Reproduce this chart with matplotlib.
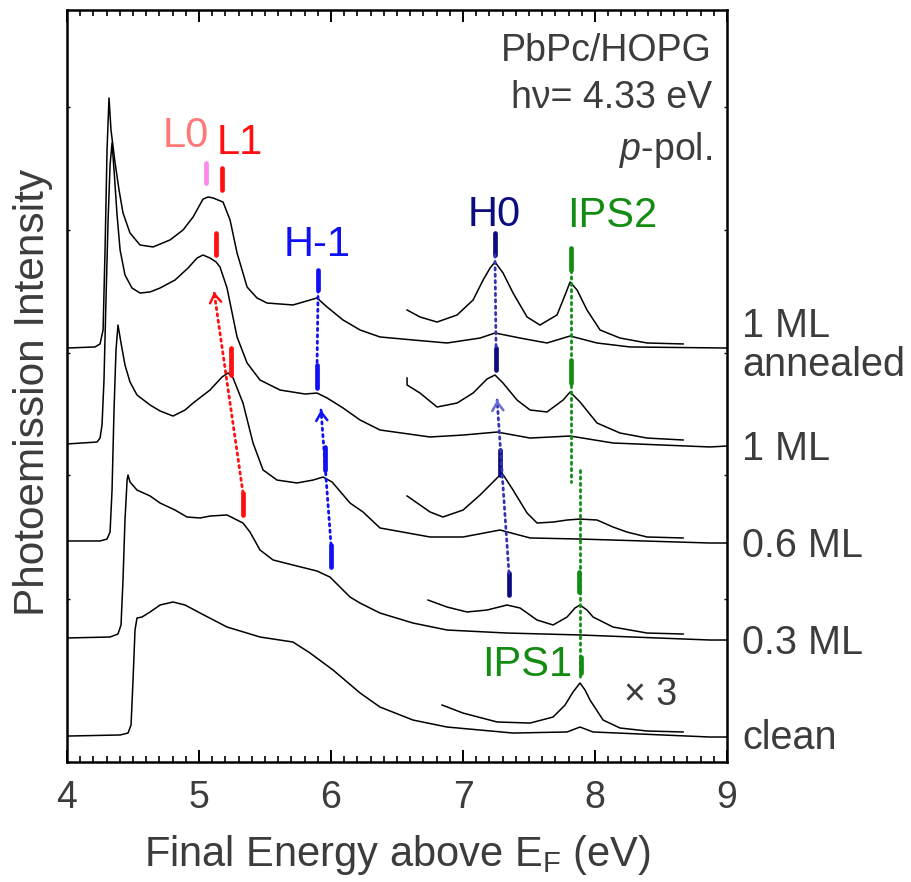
import matplotlib.pyplot as plt
from matplotlib.ticker import MultipleLocator

plt.rcParams['font.family'] = ['Liberation Sans', 'DejaVu Sans']
plt.rcParams['mathtext.fontset'] = 'custom'
plt.rcParams['mathtext.rm'] = 'Liberation Sans'
plt.rcParams['mathtext.it'] = 'Liberation Sans:italic'

GREY = "#3c3c3c"

# full spectra: final energy (eV) and intensity above each baseline
e_ann = [4.000, 4.212, 4.250, 4.273, 4.288, 4.303, 4.318, 4.333, 4.364, 4.394, 4.424, 4.477,
         4.553, 4.652, 4.780, 4.879, 4.955, 5.030, 5.068, 5.106, 5.144, 5.182, 5.235,
         5.288, 5.364, 5.439, 5.515, 5.712, 5.841, 5.894, 5.970, 6.091, 6.220, 6.371, 6.621,
         6.879, 7.129, 7.242, 7.432, 7.636, 7.811, 8.015, 8.265, 9.000]
i_ann = [0.010, 0.021, 0.052, 0.196, 1.021, 2.052, 2.588, 2.258, 1.918, 1.639, 1.402, 1.196,
         1.072, 1.052, 1.124, 1.227, 1.361, 1.545, 1.567, 1.557, 1.536, 1.515, 1.330,
         0.990, 0.639, 0.526, 0.474, 0.454, 0.505, 0.526, 0.433, 0.299, 0.196, 0.124, 0.093,
         0.062, 0.113, 0.165, 0.113, 0.062, 0.134, 0.062, 0.021, 0.010]

e_1ml = [4.000, 4.227, 4.250, 4.265, 4.280, 4.295, 4.311, 4.326, 4.341, 4.356, 4.379, 4.402,
         4.439, 4.492, 4.553, 4.629, 4.705, 4.818, 4.917, 4.985, 5.030, 5.083, 5.129, 5.159,
         5.212, 5.288, 5.364, 5.462, 5.614, 5.803, 5.894, 5.970, 6.091, 6.220, 6.371, 6.750,
         7.000, 7.258, 7.508, 7.811, 8.136, 8.871, 9.000]
i_1ml = [0.021, 0.041, 0.082, 0.216, 0.680, 1.505, 2.330, 2.897, 3.124, 2.845, 2.381, 2.021,
         1.763, 1.629, 1.577, 1.588, 1.629, 1.711, 1.835, 1.938, 1.969, 1.938, 1.897, 1.845,
         1.629, 1.124, 0.856, 0.680, 0.577, 0.536, 0.546, 0.495, 0.392, 0.268, 0.165, 0.093,
         0.113, 0.144, 0.082, 0.103, 0.031, -0.010, 0.000]

e_06 = [4.000, 4.250, 4.303, 4.326, 4.341, 4.356, 4.371, 4.386, 4.409, 4.439, 4.477, 4.530,
        4.629, 4.705, 4.803, 4.894, 4.955, 5.083, 5.174, 5.220, 5.258, 5.333, 5.409, 5.485,
        5.591, 5.742, 5.864, 5.939, 6.008, 6.144, 6.242, 6.371, 6.750, 7.000, 7.280, 7.508,
        7.886, 8.871, 9.000]
i_06 = [0.021, 0.021, 0.041, 0.113, 0.546, 1.371, 1.990, 2.247, 2.062, 1.835, 1.660, 1.526,
        1.423, 1.361, 1.309, 1.371, 1.443, 1.577, 1.711, 1.753, 1.701, 1.443, 1.031, 0.753,
        0.649, 0.619, 0.649, 0.680, 0.629, 0.412, 0.320, 0.155, 0.062, 0.062, 0.134, 0.052,
        0.041, 0.000, 0.000]

e_03 = [4.000, 4.326, 4.386, 4.409, 4.424, 4.439, 4.455, 4.462, 4.477, 4.530, 4.629, 4.705,
        4.818, 4.909, 5.008, 5.083, 5.212, 5.333, 5.386, 5.462, 5.561, 5.712, 5.894, 5.992,
        6.144, 6.220, 6.371, 6.621, 6.879, 7.333, 7.886, 8.871, 9.000]
i_03 = [0.021, 0.031, 0.062, 0.155, 0.619, 1.237, 1.649, 1.701, 1.629, 1.546, 1.485, 1.412,
        1.340, 1.268, 1.258, 1.278, 1.289, 1.206, 1.113, 0.928, 0.825, 0.773, 0.711, 0.649,
        0.443, 0.381, 0.278, 0.175, 0.103, 0.072, 0.052, 0.000, 0.000]

e_clean = [4.000, 4.402, 4.462, 4.485, 4.500, 4.515, 4.530, 4.568, 4.629, 4.705, 4.803, 4.894,
           5.008, 5.212, 5.462, 5.712, 5.841, 6.015, 6.220, 6.371, 6.621, 6.879, 7.379, 7.788,
           7.886, 7.985, 8.871, 9.000]
i_clean = [0.010, 0.021, 0.041, 0.124, 0.588, 1.103, 1.227, 1.237, 1.289, 1.361, 1.392, 1.361,
           1.278, 1.134, 1.031, 0.979, 0.866, 0.691, 0.454, 0.309, 0.175, 0.103, 0.041, 0.052,
           0.103, 0.052, 0.000, 0.000]

# x3 magnified traces of the high-energy part
e_ann3 = [6.576, 6.674, 6.803, 6.955, 7.076, 7.152, 7.205, 7.242, 7.303, 7.379, 7.485, 7.583,
          7.712, 7.773, 7.811, 7.864, 7.939, 8.038, 8.189, 8.394, 8.667]
i_ann3 = [0.402, 0.330, 0.278, 0.351, 0.505, 0.711, 0.835, 0.897, 0.784, 0.577, 0.330, 0.247,
          0.351, 0.557, 0.691, 0.608, 0.402, 0.196, 0.113, 0.062, 0.052]

e_1ml3 = [6.576, 6.576, 6.674, 6.803, 6.955, 7.076, 7.182, 7.242, 7.303, 7.409, 7.508, 7.636,
          7.758, 7.811, 7.886, 8.015, 8.189, 8.394, 8.667]
i_1ml3 = [0.701, 0.629, 0.546, 0.402, 0.443, 0.546, 0.691, 0.732, 0.649, 0.474, 0.371, 0.351,
          0.474, 0.557, 0.454, 0.237, 0.134, 0.082, 0.062]

e_063 = [6.576, 6.750, 6.848, 7.000, 7.129, 7.242, 7.295, 7.379, 7.485, 7.561, 7.682, 7.788,
         7.886, 8.015, 8.136, 8.242, 8.394, 8.667]
i_063 = [0.485, 0.320, 0.268, 0.340, 0.495, 0.649, 0.722, 0.546, 0.309, 0.206, 0.216, 0.237,
         0.247, 0.237, 0.165, 0.113, 0.062, 0.052]

e_033 = [6.735, 6.879, 7.030, 7.182, 7.333, 7.432, 7.561, 7.682, 7.788, 7.848, 7.886, 7.939,
         7.985, 8.136, 8.394, 8.667]
i_033 = [0.412, 0.340, 0.289, 0.309, 0.361, 0.330, 0.206, 0.155, 0.237, 0.330, 0.361, 0.309,
         0.237, 0.134, 0.072, 0.062]

e_clean3 = [6.841, 7.000, 7.258, 7.508, 7.682, 7.773, 7.833, 7.886, 7.924, 7.962, 8.061, 8.189,
            8.394, 8.667]
i_clean3 = [0.330, 0.247, 0.155, 0.144, 0.206, 0.330, 0.464, 0.557, 0.485, 0.381, 0.175, 0.093,
            0.062, 0.052]

offsets = [4, 3, 2, 1, 0]
sample_labels = ["1 ML", "1 ML", "0.6 ML", "0.3 ML", "clean"]

full = [(e_ann, i_ann), (e_1ml, i_1ml), (e_06, i_06), (e_03, i_03), (e_clean, i_clean)]
mag = [(e_ann3, i_ann3), (e_1ml3, i_1ml3), (e_063, i_063), (e_033, i_033), (e_clean3, i_clean3)]

fig = plt.figure(figsize=(9.12, 8.82), dpi=100)
ax = fig.add_axes([0.0735, 0.136, 0.7237, 0.8527])

for (e, i), (e3, i3), off in zip(full, mag, offsets):
    ax.plot(e, [v + off for v in i], color='black', lw=1.1)
    ax.plot(e3, [v + off for v in i3], color='black', lw=1.1)

ax.set_xlim(4, 9)
ax.set_ylim(-0.258, 7.495)

# peak markers
def mark(x, y0, y1, color):
    ax.plot([x, x], [y0, y1], color=color, lw=3.4, solid_capstyle='round')

def dots(x0, y0, x1, y1, color):
    ax.plot([x0, x1], [y0, y1], color=color, lw=2.0, ls=(0, (0.8, 1.5)),
            dash_capstyle='round')

def arrow(x0, y0, x1, y1, color, head_color=None):
    dots(x0, y0, x1, y1, color)
    f = 0.02
    ax.annotate('', xy=(x1, y1), xytext=(x1 - f * (x1 - x0), y1 - f * (y1 - y0)),
                arrowprops=dict(arrowstyle='->,head_length=0.6,head_width=0.4',
                                color=head_color or color, lw=1.8))

RED = "#ff0f0f"
PINK = "#ff88e8"
BLUE = "#1010f5"
NAVY = "#0c0c80"
GREEN = "#148c14"

mark(5.053, 5.711, 5.918, PINK)
mark(5.174, 5.639, 5.866, RED)
mark(5.129, 4.969, 5.196, RED)
mark(5.242, 3.732, 4.010, RED)
mark(5.333, 2.289, 2.515, RED)
arrow(5.333, 2.515, 5.114, 4.588, RED)

mark(5.902, 4.608, 4.814, BLUE)
mark(5.894, 3.598, 3.835, BLUE)
dots(5.902, 4.608, 5.894, 3.835, BLUE)
mark(5.955, 2.753, 2.990, BLUE)
mark(6.000, 1.753, 1.979, BLUE)
arrow(6.000, 1.979, 5.924, 3.371, BLUE)

mark(7.242, 4.969, 5.196, NAVY)
mark(7.250, 3.784, 4.010, NAVY)
dots(7.242, 4.969, 7.250, 4.010, "#3434b0")
mark(7.280, 2.701, 2.959, NAVY)
mark(7.348, 1.464, 1.691, NAVY)
arrow(7.348, 1.691, 7.258, 3.474, "#3434b0", "#6a6ad8")

mark(7.818, 4.814, 5.041, GREEN)
mark(7.818, 3.649, 3.887, GREEN)
dots(7.818, 4.814, 7.818, 2.629, GREEN)
dots(7.886, 2.753, 7.886, 0.588, GREEN)
mark(7.879, 1.495, 1.701, GREEN)
mark(7.894, 0.660, 0.825, GREEN)

ax.text(4.902, 6.196, "L0", color="#ff7878", fontsize=30, ha='center', va='center')
ax.text(5.311, 6.124, "L1", color=RED, fontsize=30, ha='center', va='center')
ax.text(5.894, 5.072, "H-1", color=BLUE, fontsize=30, ha='center', va='center')
ax.text(7.235, 5.381, "H0", color=NAVY, fontsize=30, ha='center', va='center')
ax.text(8.129, 5.371, "IPS2", color=GREEN, fontsize=30, ha='center', va='center')
ax.text(7.485, 0.742, "IPS1", color=GREEN, fontsize=30, ha='center', va='center')
ax.text(8.424, 0.433, "\u00d7 3", color=GREY, fontsize=27, ha='center', va='center')

ax.text(8.886, 7.072, "PbPc/HOPG", color=GREY, fontsize=27, ha='right', va='center')
ax.text(8.886, 6.588, "h\u03bd= 4.33 eV", color=GREY, fontsize=27, ha='right', va='center')
ax.text(8.886, 6.05, r"$\mathit{p}$-pol.", color=GREY, fontsize=27, ha='right', va='center')

label_y = [4.237, 2.969, 1.969, 0.969, -0.01]
for lab, y in zip(sample_labels, label_y):
    ax.text(9.114, y, lab, color=GREY, fontsize=28.5, ha='left', va='center', clip_on=False)
ax.text(9.114, 3.835, "annealed", color=GREY, fontsize=28.5, ha='left', va='center',
        clip_on=False)

ax.xaxis.set_major_locator(MultipleLocator(1))
ax.xaxis.set_minor_locator(MultipleLocator(0.1))
ax.tick_params(axis='x', which='major', direction='in', top=True, length=8.5, width=1.4,
               labelsize=27, labelcolor=GREY, pad=13)
ax.tick_params(axis='x', which='minor', direction='in', top=True, length=4, width=1.2)
ax.set_yticks([1.42, 2.70, 3.96, 5.23, 6.49])
ax.tick_params(axis='y', direction='in', left=True, right=True, length=2, width=1.0,
               labelleft=False)
for s in ax.spines.values():
    s.set_linewidth(1.8)

ax.set_xlabel(r"Final Energy above E$_{\mathrm{F}}$ (eV)", fontsize=30, color=GREY, labelpad=12)
ax.set_ylabel("Photoemission Intensity", fontsize=30.5, color=GREY)
ax.yaxis.set_label_coords(-0.022, 0.491)

fig.savefig("out.png", dpi=100)
